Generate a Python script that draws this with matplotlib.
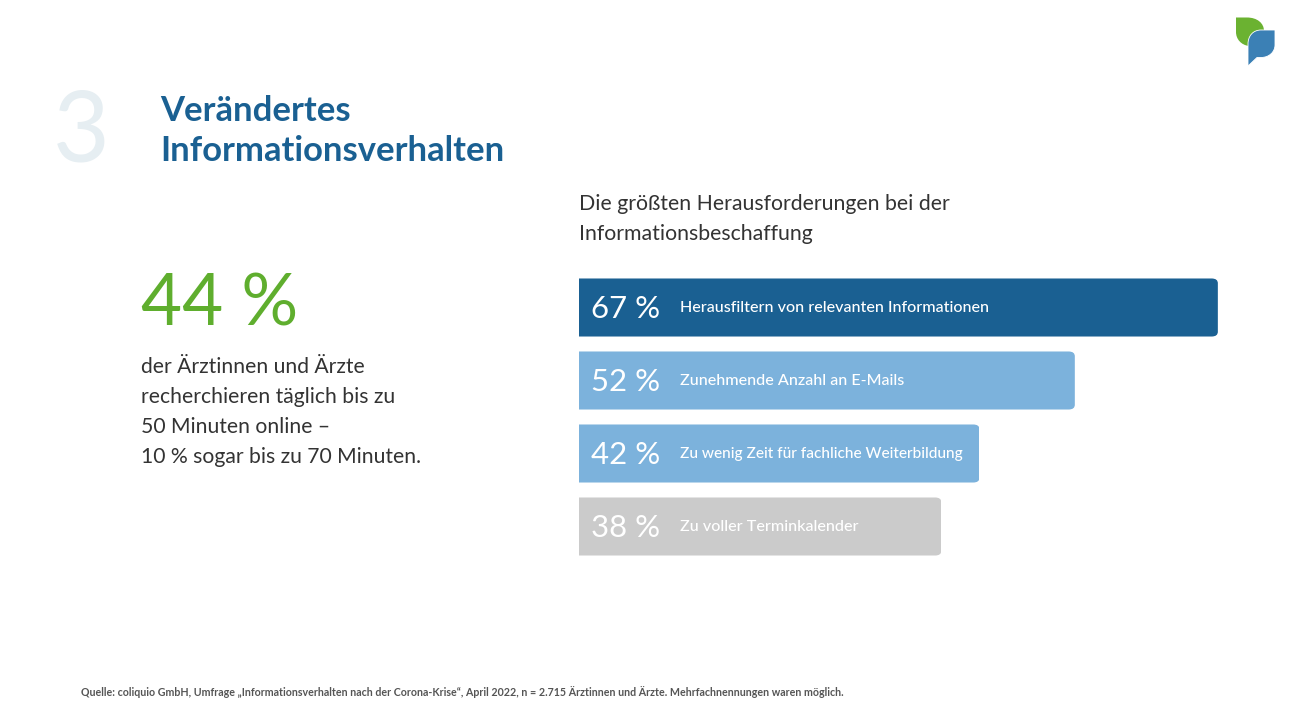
import matplotlib
matplotlib.use("Agg")
import matplotlib.pyplot as plt
from matplotlib.patches import FancyBboxPatch, PathPatch
from matplotlib.path import Path

W, H = 1294, 728
FONT = "Lato"

categories = ["Herausfiltern von relevanten Informationen", "Zunehmende Anzahl an E-Mails",
              "Zu wenig Zeit für fachliche Weiterbildung", "Zu voller Terminkalender"]
values = [67, 52, 42, 38]
value_labels = ["67 %", "52 %", "42 %", "38 %"]
bar_colors = ["#1a6092", "#7cb2dc", "#7cb2dc", "#cbcbcb"]

title_lines = ["Verändertes", "Informationsverhalten"]
subtitle_lines = ["Die größten Herausforderungen bei der", "Informationsbeschaffung"]
big_number = "44 %"
body_lines = ["der Ärztinnen und Ärzte", "recherchieren täglich bis zu", "50 Minuten online –", "10 % sogar bis zu 70 Minuten."]
source = "Quelle: coliquio GmbH, Umfrage „Informationsverhalten nach der Corona-Krise“, April 2022, n = 2.715 Ärztinnen und Ärzte. Mehrfachnennungen waren möglich."

fig = plt.figure(figsize=(W / 100, H / 100), dpi=100, facecolor="white")

# bars
ax = fig.add_axes([579 / W, 1 - 563 / H, 953.5 / W, 292 / H])
ax.set_xlim(0, 100)
ax.set_ylim(3.5, -0.5)
ax.axis("off")
bars = ax.barh(range(len(values)), values, height=0.795, color=bar_colors, linewidth=0)

# only the right corners are rounded
for bar in bars:
    clip = FancyBboxPatch((bar.get_x() - 2, bar.get_y()), bar.get_width() + 2, bar.get_height(),
                          boxstyle="round,pad=0,rounding_size=0.65", mutation_aspect=0.1,
                          transform=ax.transData, linewidth=0, facecolor="none")
    ax.add_patch(clip)
    bar.set_clip_path(clip)

# overlay in pixel coords, y flipped so numbers match the screenshot
page = fig.add_axes([0, 0, 1, 1])
page.set_xlim(0, W)
page.set_ylim(H, 0)
page.axis("off")


def px(size):
    return size * 0.72


def label(x, y, s, size, color="#333333", weight="normal", family=FONT):
    page.text(x, y, s, fontsize=px(size), color=color, fontweight=weight, family=family, va="baseline", ha="left")


for i, (txt, cat) in enumerate(zip(value_labels, categories)):
    y0 = 318 + 73 * i
    label(591, y0, txt, 31.2, color="white")
    # third label is set tighter in the original
    label(680, y0 - 6, cat, 15.4 if i == 2 else 16.1, color="white", weight="medium")

# big faint number
label(53, 161, "3", 98, color="#e6eef2")

for i, line in enumerate(title_lines):
    label(160, 121 + 40 * i, line, 34.7, color="#1a6092", weight="bold")
for i, line in enumerate(subtitle_lines):
    label(579, 210 + 30 * i, line, 21.3)
label(141, 326, big_number, 71, color="#5fae2e")
for i, line in enumerate(body_lines):
    label(141, 373 + 30 * i, line, 21.1)
label(81, 696, source, 10.66, color="#555555", weight="bold")

# logo
leaf = Path([(1236, 17.5), (1247, 17.5), (1257, 17.5), (1264, 23), (1264, 31), (1264, 31), (1249, 46),
             (1241, 45), (1236, 39), (1236, 32), (1236, 17.5)],
            [1, 2, 4, 4, 4, 2, 2, 4, 4, 4, 79])
page.add_patch(PathPatch(leaf, facecolor="#6bb231", linewidth=0))
drop = Path([(1275, 30), (1275, 45), (1275, 52), (1269, 57.5), (1261, 57.5), (1257, 57.5), (1248, 66), (1248, 44),
             (1248, 36), (1253, 30), (1261, 30), (1275, 30)],
            [1, 2, 4, 4, 4, 2, 2, 2, 4, 4, 4, 79])
page.add_patch(PathPatch(drop, facecolor="#3b80b5", edgecolor="white", linewidth=0.6))

fig.savefig("out.png", dpi=100, facecolor="white")
